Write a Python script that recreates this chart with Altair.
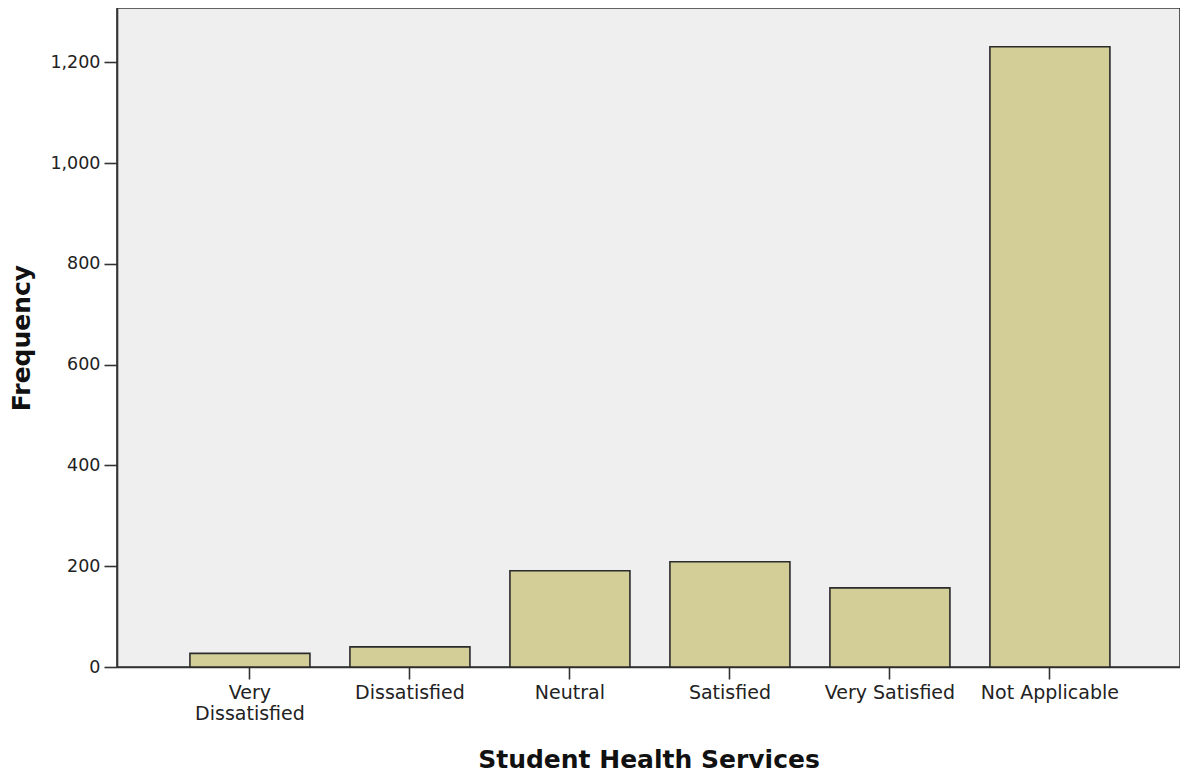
import altair as alt
import pandas as pd

categories = ["Very Dissatisfied", "Dissatisfied", "Neutral", "Satisfied", "Very Satisfied", "Not Applicable"]
frequencies = [27, 40, 191, 209, 157, 1231]
y_ticks = [0, 200, 400, 600, 800, 1000, 1200]

df = pd.DataFrame({"category": categories, "frequency": frequencies})

FONT = "DejaVu Sans"

chart = alt.Chart(df).mark_bar(
    color="#D3CE97", stroke="#2b2b2b", strokeWidth=1.6
).encode(
    x=alt.X("category:N", sort=categories,
            scale=alt.Scale(paddingInner=0.25, paddingOuter=0.447, align=0.51),
            axis=alt.Axis(title="Student Health Services",
                          labelAngle=0,
                          labelExpr="datum.label == 'Very Dissatisfied' ? ['Very', 'Dissatisfied'] : datum.label",
                          labelLineHeight=21,
                          labelFontSize=19, labelFont=FONT, labelColor="#222",
                          titleFontSize=25, titleFont=FONT, titleFontWeight="bold",
                          titleColor="#111", titlePadding=24,
                          tickSize=12, tickColor="#333", tickWidth=1.6,
                          domainColor="#333", domainWidth=1.6, labelPadding=4)),
    y=alt.Y("frequency:Q",
            scale=alt.Scale(domain=[0, 1308], nice=False),
            axis=alt.Axis(title="Frequency", values=y_ticks, format=",d",
                          labelFontSize=17.5, labelFont=FONT, labelColor="#222",
                          titleFontSize=25, titleFont=FONT, titleFontWeight="bold",
                          titleColor="#111", titlePadding=15,
                          tickSize=13, tickColor="#333", tickWidth=1.6,
                          domainColor="#333", domainWidth=1.6, grid=False,
                          labelPadding=4)),
).properties(
    width=1063, height=659,
    autosize=alt.AutoSizeParams(type="none"),
    padding={"left": 109, "top": 0, "right": 0, "bottom": 107},
).configure(
    background="white"
).configure_view(
    fill="#EFEFEF", stroke="#333", strokeWidth=1.6
)

chart.save("out.html", embed_options={"renderer": "svg", "actions": False})
